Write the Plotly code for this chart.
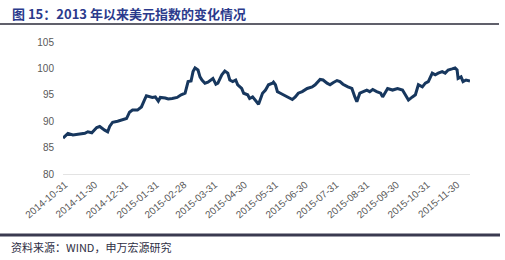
import plotly.graph_objects as go

# Data (US Dollar Index)
dates = [
    "2014-10-29", "2014-11-03", "2014-11-08", "2014-11-15", "2014-11-20", "2014-11-23", "2014-11-27",
    "2014-12-02", "2014-12-05", "2014-12-10", "2014-12-13", "2014-12-15", "2014-12-18", "2014-12-23",
    "2014-12-28", "2015-01-01", "2015-01-04", "2015-01-07", "2015-01-12", "2015-01-16", "2015-01-19",
    "2015-01-21", "2015-01-27", "2015-01-30", "2015-02-02", "2015-02-04", "2015-02-09", "2015-02-12",
    "2015-02-16", "2015-02-21", "2015-02-25", "2015-03-01", "2015-03-04", "2015-03-07", "2015-03-09",
    "2015-03-11", "2015-03-14", "2015-03-16", "2015-03-18", "2015-03-21", "2015-03-24", "2015-03-29",
    "2015-04-01", "2015-04-03", "2015-04-07", "2015-04-10", "2015-04-13", "2015-04-15", "2015-04-18",
    "2015-04-21", "2015-04-23", "2015-04-27", "2015-04-29", "2015-05-03", "2015-05-05", "2015-05-08",
    "2015-05-14", "2015-05-18", "2015-05-21", "2015-05-24", "2015-05-28", "2015-05-29", "2015-05-31",
    "2015-06-02", "2015-06-05", "2015-06-08", "2015-06-13", "2015-06-17", "2015-06-20", "2015-06-23",
    "2015-06-27", "2015-07-02", "2015-07-07", "2015-07-10", "2015-07-15", "2015-07-18", "2015-07-22",
    "2015-07-25", "2015-07-28", "2015-08-01", "2015-08-04", "2015-08-07", "2015-08-12", "2015-08-16",
    "2015-08-19", "2015-08-21", "2015-08-24", "2015-08-27", "2015-08-31", "2015-09-03", "2015-09-06",
    "2015-09-10", "2015-09-14", "2015-09-16", "2015-09-21", "2015-09-26", "2015-10-01", "2015-10-06",
    "2015-10-09", "2015-10-12", "2015-10-16", "2015-10-19", "2015-10-22", "2015-10-26", "2015-10-29",
    "2015-11-01", "2015-11-05", "2015-11-08", "2015-11-11", "2015-11-15", "2015-11-18", "2015-11-21",
    "2015-11-25", "2015-11-28", "2015-11-30", "2015-12-01", "2015-12-04", "2015-12-06", "2015-12-09",
    "2015-12-13",
]
usd_index = [
    86.8, 87.7, 87.4, 87.5, 87.7, 88.0, 87.8,
    88.8, 89.0, 88.3, 88.0, 89.0, 89.8, 90.0,
    90.2, 90.5, 91.7, 92.1, 92.1, 92.7, 94.0,
    94.8, 94.5, 94.6, 93.8, 94.5, 94.4, 94.2,
    94.3, 94.5, 95.0, 95.3, 97.5, 97.6, 99.4,
    100.1, 99.7, 98.4, 97.8, 97.2, 97.4, 98.1,
    97.0, 97.2, 98.8, 99.5, 99.1, 97.8, 97.5,
    97.8, 96.9, 96.2, 95.3, 95.0, 94.3, 94.6,
    93.2, 95.3, 95.9, 96.9, 97.2, 97.4, 96.9,
    95.6, 95.3, 95.0, 94.6, 94.1, 94.6, 95.3,
    95.6, 96.2, 96.5, 96.9, 97.9, 97.8, 97.2,
    96.9, 97.3, 97.7, 97.5, 97.0, 96.5, 96.2,
    94.6, 93.7, 95.3, 95.6, 95.9, 95.6, 96.0,
    95.6, 95.3, 94.6, 96.2, 95.9, 96.2, 95.9,
    95.0, 94.0, 94.6, 95.0, 96.9, 96.5, 97.2,
    97.5, 99.1, 98.8, 99.1, 99.4, 99.1, 99.7,
    99.9, 100.1, 99.7, 98.1, 98.4, 97.5, 97.8,
    97.6,
]
tick_dates = [
    "2014-10-31", "2014-11-30", "2014-12-31", "2015-01-31", "2015-02-28", "2015-03-31", "2015-04-30",
    "2015-05-31", "2015-06-30", "2015-07-31", "2015-08-31", "2015-09-30", "2015-10-31", "2015-11-30",
]
y_ticks = [80, 85, 90, 95, 100, 105]

title_text = "<b>图 15：2013 年以来美元指数的变化情况</b>"
source_text = "资料来源：WIND，申万宏源研究"

fig = go.Figure()
fig.add_trace(go.Scatter(
    x=dates, y=usd_index, mode="lines",
    line=dict(color="#17375e", width=3),
    showlegend=False,
))

fig.update_layout(
    width=505, height=260,
    margin=dict(l=63, r=35, t=42, b=86),
    paper_bgcolor="white", plot_bgcolor="white",
    font=dict(family="Liberation Sans, Arial, sans-serif", color="#595959", size=10),
    xaxis=dict(
        type="date",
        range=["2014-10-29", "2015-12-13"],
        tickvals=tick_dates, ticktext=tick_dates,
        tickangle=-40, showgrid=False, zeroline=False,
        showline=True, linecolor="#e3e3e3", linewidth=1,
        ticks="", tickfont=dict(size=10, color="#595959"),
    ),
    yaxis=dict(
        range=[80, 105], tickvals=y_ticks,
        showgrid=False, zeroline=False, showline=False, ticks="",
        ticklabelstandoff=8,
        tickfont=dict(size=10, color="#595959"),
    ),
    shapes=[
        dict(type="line", xref="paper", yref="paper",
             x0=-63/407, x1=(499-63)/407, y0=(174-24)/132, y1=(174-24)/132,
             line=dict(color="#2b2b3a", width=1.5)),
        dict(type="line", xref="paper", yref="paper",
             x0=-63/407, x1=(500-63)/407, y0=(174-235)/132, y1=(174-235)/132,
             line=dict(color="#3a3a50", width=3)),
    ],
    annotations=[
        dict(text=title_text, xref="paper", yref="paper",
             x=(10-63)/407, y=(174-14)/132, xanchor="left", yanchor="middle",
             showarrow=False,
             font=dict(family="Noto Sans CJK SC", size=13, color="#2b3a8c")),
        dict(text=source_text, xref="paper", yref="paper",
             x=(9-63)/407, y=(174-247)/132, xanchor="left", yanchor="middle",
             showarrow=False,
             font=dict(family="Noto Sans CJK SC", size=11, color="#2e2e44")),
    ],
)

fig.write_html("out.html")
